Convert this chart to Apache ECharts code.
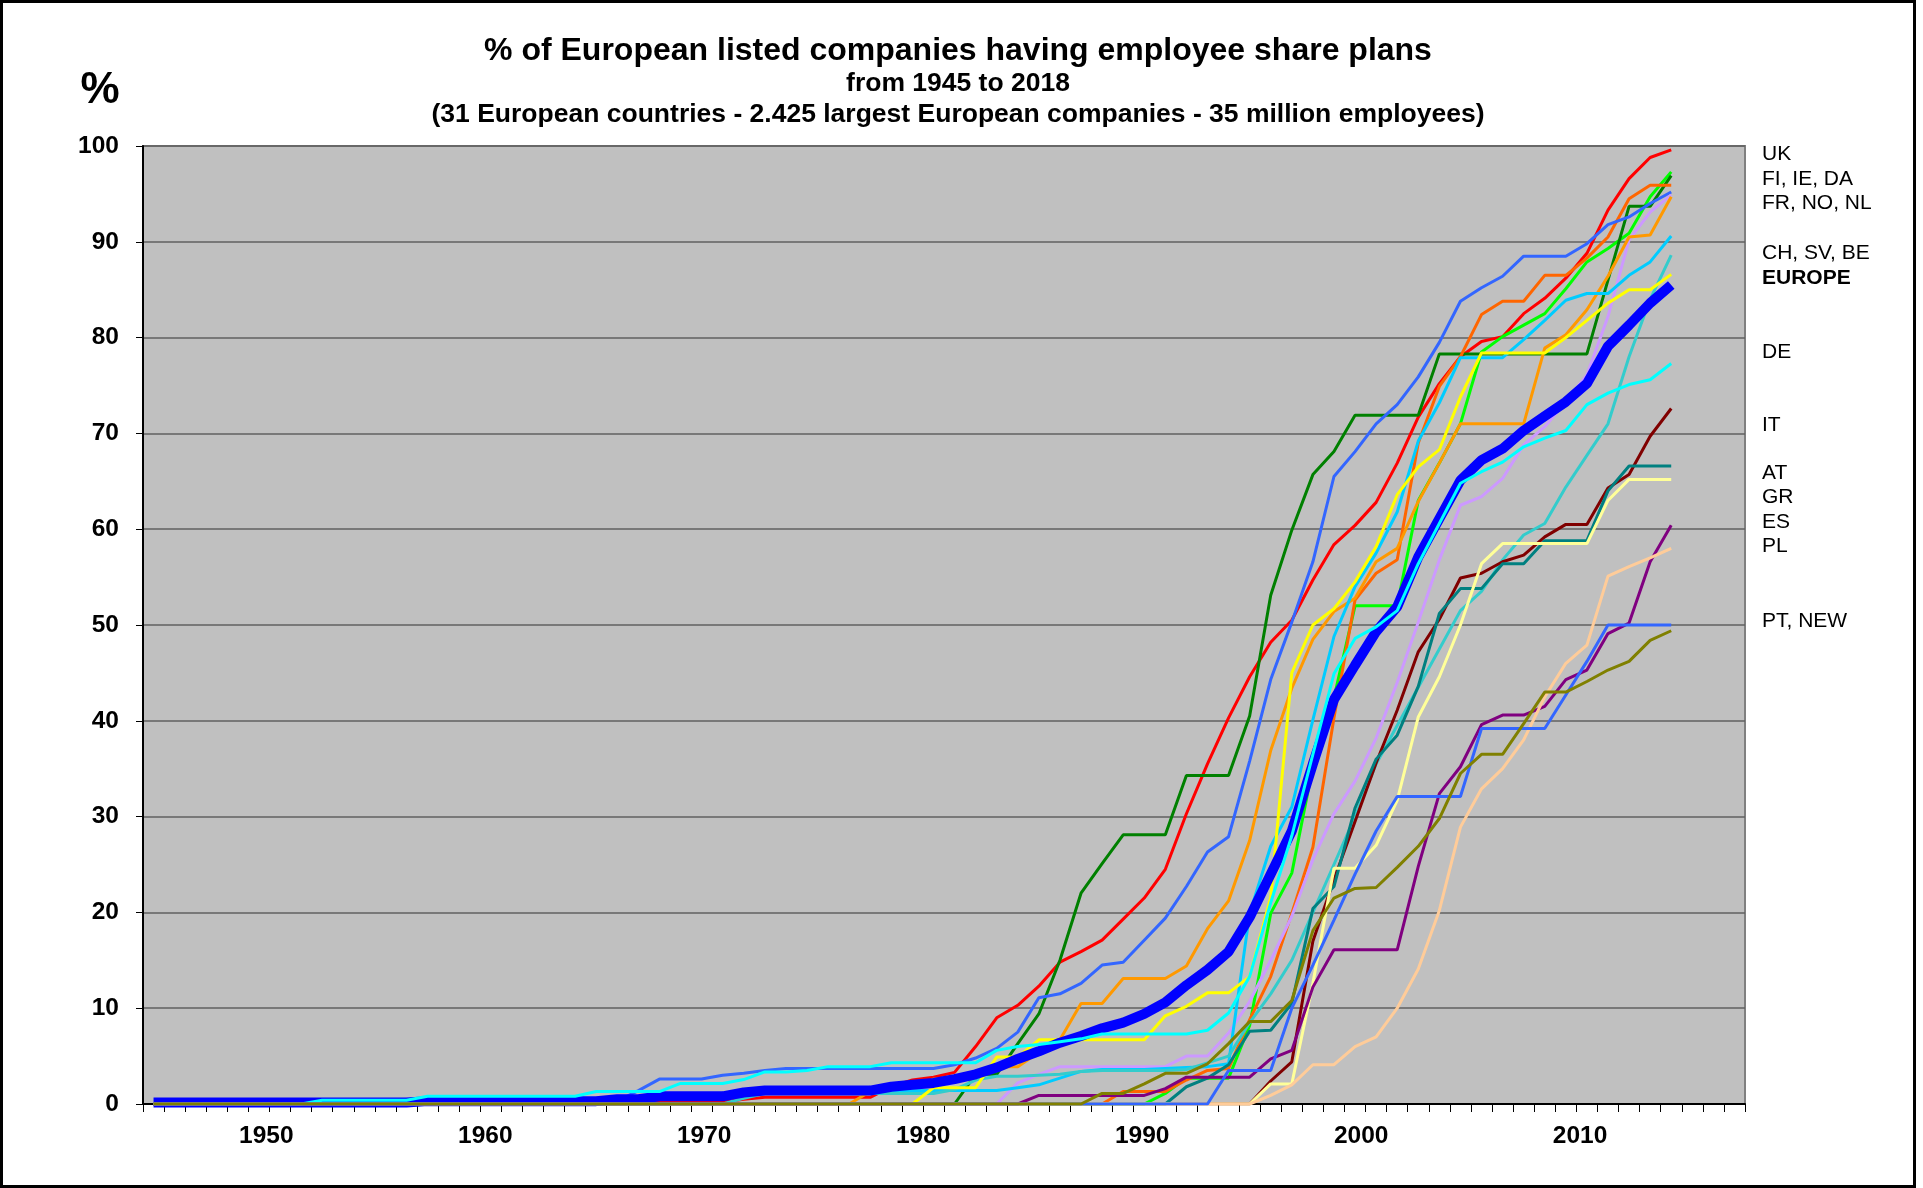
<!DOCTYPE html>
<html><head><meta charset="utf-8">
<script src="https://cdn.jsdelivr.net/npm/echarts@6/dist/echarts.min.js"></script>
<style>html,body{margin:0;padding:0;background:#fff}#c{width:1923px;height:1188px}</style>
</head><body><div id="c"></div>
<script>
// ---- categories (one per tick slot) ----
const years = [1945,1946,1947,1948,1949,1950,1951,1952,1953,1954,1955,1956,1957,1958,1959,1960,1961,1962,1963,1964,1965,1966,1967,1968,1969,1970,1971,1972,1973,1974,1975,1976,1977,1978,1979,1980,1981,1982,1983,1984,1985,1986,1987,1988,1989,1990,1991,1992,1993,1994,1995,1996,1997,1998,1999,2000,2001,2002,2003,2004,2005,2006,2007,2008,2009,2010,2011,2012,2013,2014,2015,2016,2017,2018,2019,2020];
const xTickLabels = [1950,1960,1970,1980,1990,2000,2010];

// ---- series values (% of listed companies) ----
const uk = [0,0,0,0,0,0,0,0,0,0,0,0,0,0,0.2,0.2,0.2,0.2,0.2,0.2,0.2,0.2,0.2,0.2,0.2,0.2,0.2,0.2,0.5,0.7,0.7,0.7,0.7,0.7,0.7,1.8,2.5,2.8,3.3,6.0,9.0,10.3,12.3,14.8,15.9,17.1,19.3,21.5,24.5,30.3,35.5,40.3,44.6,48.2,50.5,54.7,58.4,60.4,62.8,66.9,71.7,75.2,78.0,79.6,80.1,82.5,84.1,86.2,88.8,93.3,96.6,98.8,99.6];
const fi = [0,0,0,0,0,0,0,0,0,0,0,0,0,0,0,0,0,0,0,0,0,0,0,0,0,0,0,0,0,0,0,0,0,0,0,0,0,0,0,0,0,0,0,0,0,0,0,0,1.1,2.7,2.7,2.7,8.2,19.9,24.1,35.2,42.4,52.0,52.0,52.0,63.0,66.9,71.0,78.5,80.1,81.3,82.5,85.1,87.9,89.3,90.9,94.7,97.3];
const ie = [0,0,0,0,0,0,0,0,0,0,0,0,0,0,0,0,0,0,0,0,0,0,0,0,0,0,0,0,0,0,0,0,0,0,0,0,0,0,0,3.1,3.1,6.3,9.4,15.0,22.0,25.1,28.1,28.1,28.1,34.3,34.3,34.3,40.5,53.1,59.9,65.7,68.1,71.9,71.9,71.9,71.9,78.3,78.3,78.3,78.3,78.3,78.3,78.3,78.3,86.0,93.7,93.7,96.9];
const da = [0,0,0,0,0,0,0,0,0,0,0,0,0,0,0,0,0,0,0,0,0,0,0,0,0,0,0,0,0,0,0,0,0,0,0,0,0,0,0,0,0,0,0,0,0,0,1.3,1.3,1.3,2.5,3.5,3.7,8.8,13.3,19.9,26.8,40.3,52.6,55.4,56.8,69.0,74.9,78.0,82.4,83.8,83.8,86.5,86.5,88.3,90.5,94.5,95.9,95.9];
const fr = [0,0,0,0,0,0,0,0,0,0,0,0,0,0,0,0,0,0,0,0,0,0,0.3,1.4,2.6,2.6,2.6,3.0,3.2,3.5,3.7,3.7,3.7,3.7,3.7,3.7,3.7,3.7,4.1,4.8,5.8,7.5,11.1,11.5,12.6,14.5,14.8,17.1,19.4,22.7,26.3,27.9,35.8,44.3,50.3,56.6,65.5,68.1,71.0,73.0,75.9,79.5,83.8,85.2,86.4,88.5,88.5,88.5,89.8,91.8,92.6,94.0,95.2];
const no = [0,0,0,0,0,0,0,0,0,0,0,0,0,0,0,0,0,0,0,0,0,0,0,0,0,0,0,0,0,0,0,0,0,0,0,0,0,0,0,0,0,2.2,3.1,3.9,3.9,3.9,3.9,3.9,3.9,5.0,5.0,7.4,10.7,15.0,19.6,25.5,30.3,33.7,38.2,44.0,50.3,56.8,62.5,63.4,65.3,68.8,70.7,73.3,76.1,82.2,90.2,93.1,94.9];
const nl = [0,0,0,0,0,0,0,0,0,0,0,0,0,0,0,0,0,0,0,0,0,0,0,0,0,0,0,0,0,0,0,0,0,0,1.3,1.3,1.3,2.6,2.6,2.6,3.9,3.9,5.4,6.7,10.5,10.5,13.1,13.1,13.1,14.4,18.3,21.2,27.5,36.9,43.4,48.5,51.4,52.8,56.6,58.0,62.9,66.9,71.0,71.0,71.0,71.0,78.9,80.3,82.9,86.4,90.5,90.7,94.7];
const ch = [0,0,0,0,0,0,0,0,0,0,0,0,0,0,0,0,0.5,0.5,0.5,0.5,0.5,0.5,0.5,0.5,0.5,0.5,0.5,0.5,1.0,1.2,1.4,1.4,1.4,1.4,1.4,1.4,1.4,1.4,1.4,1.4,1.4,1.7,2.0,2.7,3.4,3.6,3.6,3.6,3.7,3.8,3.9,4.2,19.9,26.9,31.0,40.1,48.8,54.0,57.5,61.8,69.2,73.2,77.9,77.9,77.9,79.8,81.8,83.9,84.6,84.6,86.5,87.9,90.6];
const sv = [0,0,0,0,0,0,0,0,0,0,0,0,0,0,0,0,0,0,0,0,0,0,0,0,0,0,0,0,0.6,1.1,1.1,1.1,1.1,1.1,1.1,1.1,1.1,1.1,1.5,2.5,2.9,2.9,3.0,3.1,3.4,3.5,3.5,3.5,3.5,3.6,4.3,5.0,8.5,11.5,15.0,20.0,25.0,30.0,35.5,39.5,43.5,47.5,51.5,53.5,56.8,59.4,60.6,64.4,67.7,71.0,78.0,84.0,88.6];
const be = [0,0,0,0,0,0,0,0,0,0,0,0,0,0,0,0,0,0,0,0,0,0,0,0,0,0,0,0,0,0,0,0,0,0,0,0,0,1.7,1.7,1.7,4.9,4.9,6.7,6.7,6.7,6.7,6.7,6.7,9.2,10.2,11.6,11.6,13.3,21.6,45.0,50.0,51.7,54.5,58.2,63.6,66.5,68.3,73.8,78.4,78.4,78.4,78.4,80.0,81.8,83.6,85.0,85.0,86.6];
const europe = [0.15,0.15,0.15,0.15,0.15,0.15,0.15,0.15,0.15,0.15,0.15,0.15,0.15,0.3,0.3,0.3,0.3,0.3,0.3,0.3,0.3,0.3,0.5,0.5,0.8,0.8,0.8,0.8,1.2,1.4,1.4,1.4,1.4,1.4,1.4,1.8,2.0,2.2,2.6,3.1,3.8,4.7,5.5,6.4,7.1,7.9,8.5,9.4,10.6,12.4,14.0,15.9,19.5,24.0,28.5,35.5,42.2,45.8,49.3,51.9,57.1,61.1,65.1,67.2,68.4,70.3,71.8,73.3,75.2,79.1,81.3,83.6,85.5];
const de = [0,0,0,0,0,0,0,0,0.4,0.4,0.4,0.4,0.4,0.8,0.8,0.8,0.8,0.8,0.8,0.8,0.8,1.3,1.3,1.3,1.3,2.15,2.15,2.15,2.55,3.35,3.35,3.5,3.9,3.9,3.9,4.3,4.3,4.3,4.3,4.3,5.6,6.0,6.2,6.5,6.8,7.3,7.3,7.3,7.3,7.3,7.7,9.5,13.3,21.0,28.0,36.5,44.9,48.6,49.8,51.5,56.4,60.6,64.8,66.0,67.0,68.6,69.5,70.3,73.0,74.2,75.1,75.6,77.3];
const it = [0,0,0,0,0,0,0,0,0,0,0,0,0,0,0,0,0,0,0,0,0,0,0,0,0,0,0,0,0,0,0,0,0,0,0,0,0,0,0,0,0,0,0,0,0,0,0,0,0,0,0,0,0,2.4,4.4,17.0,23.4,29.5,35.6,41.1,47.2,50.6,54.9,55.4,56.6,57.3,59.2,60.5,60.5,64.3,65.7,69.7,72.6];
const at = [0,0,0,0,0,0,0,0,0,0,0,0,0,0,0,0,0,0,0,0,0,0,0,0,0,0,0,0,0,0,0,0,0,0,0,0,0,0,0,0,0,0,0,0,0,0,0,0,0,1.8,2.7,4.1,7.6,7.7,10.5,20.4,22.7,30.9,36.0,38.5,43.6,51.2,53.8,53.8,56.4,56.4,58.8,58.8,58.8,64.0,66.6,66.6,66.6];
const gr = [0,0,0,0,0,0,0,0,0,0,0,0,0,0,0,0,0,0,0,0,0,0,0,0,0,0,0,0,0,0,0,0,0,0,0,0,0,0,0,0,0,0,0,0,0,0,0,0,0,0,0,0,0,2.1,2.1,12.6,24.6,24.6,27.0,31.7,40.4,44.6,50.0,56.4,58.5,58.5,58.5,58.5,58.5,63.0,65.2,65.2,65.2];
const es = [0,0,0,0,0,0,0,0,0,0,0,0,0,0,0,0,0,0,0,0,0,0,0,0,0,0,0,0,0,0,0,0,0,0,0,0,0,0,0,0,0,0,0.9,0.9,0.9,0.9,0.9,0.9,1.6,2.8,2.8,2.8,2.8,4.7,5.6,12.2,16.1,16.1,16.1,16.1,24.8,32.4,35.2,39.6,40.6,40.6,41.5,44.3,45.3,49.1,50.2,56.6,60.4];
const pl = [0,0,0,0,0,0,0,0,0,0,0,0,0,0,0,0,0,0,0,0,0,0,0,0,0,0,0,0,0,0,0,0,0,0,0,0,0,0,0,0,0,0,0,0,0,0,0,0,0,0,0,0,0,0.9,2.0,4.1,4.1,6.0,7.0,10.0,14.1,20.2,28.9,32.9,35.0,38.0,42.5,46.0,47.9,55.1,56.1,57.0,58.0];
const pt = [0,0,0,0,0,0,0,0,0,0,0,0,0,0,0,0,0,0,0,0,0,0,0,0,0,0,0,0,0,0,0,0,0,0,0,0,0,0,0,0,0,0,0,0,0,0,0,0,0,0,0,3.5,3.5,3.5,10.0,14.5,19.2,24.0,28.5,32.1,32.1,32.1,32.1,39.2,39.2,39.2,39.2,42.7,46.2,50.0,50.0,50.0,50.0];
const newc = [0,0,0,0,0,0,0,0,0,0,0,0,0,0,0,0,0,0,0,0,0,0,0,0,0,0,0,0,0,0,0,0,0,0,0,0,0,0,0,0,0,0,0,0,0,1.1,1.1,2.1,3.2,3.2,4.2,6.3,8.6,8.6,10.8,18.1,21.5,22.5,22.6,24.7,26.9,29.8,34.5,36.5,36.5,39.7,43.0,43.0,44.1,45.3,46.2,48.4,49.4];

const seriesNames = ['UK','FI','IE','DA','FR','NO','NL','CH','SV','BE','EUROPE','DE','IT','AT','GR','ES','PL','PT','NEW'];
const seriesData  = [uk,fi,ie,da,fr,no,nl,ch,sv,be,europe,de,it,at,gr,es,pl,pt,newc];

// ---- right-hand label texts ----
const sideLabels = ['UK','FI, IE, DA','FR, NO, NL','CH, SV, BE','EUROPE','DE','IT','AT','GR','ES','PL','PT, NEW'];

// ---- styles / layout (not data) ----
const seriesColors = ['#FF0000','#00FF00','#008000','#FF6600','#3366FF','#CC99FF','#FF9900','#00CCFF','#33CCCC','#FFFF00','#0000FF','#00FFFF','#800000','#008080','#FFFF99','#800080','#FFCC99','#3366FF','#808000'];
const sideLabelY = [154,179,203,253,278,352,425,473,497,522,546,621];
const FONT = "'Liberation Sans', Arial, sans-serif";

const chart = echarts.init(document.getElementById('c'), null, {renderer:'canvas'});

const series = seriesNames.map((n, k) => ({
  name: n, type: 'line', xAxisIndex: 0, yAxisIndex: 0,
  data: seriesData[k], symbol: 'none', silent: true,
  lineStyle: { color: seriesColors[k], width: n === 'EUROPE' ? 10 : 3 },
  itemStyle: { color: seriesColors[k] },
  z: 2
}));

const graphics = [
  { type: 'rect', shape: { x: 1.5, y: 1.5, width: 1913, height: 1185 }, style: { fill: 'none', stroke: '#000', lineWidth: 3 }, z: 100 },
  { type: 'text', x: 100, y: 91, style: { text: '%', font: 'bold 44px ' + FONT, fill: '#000', textAlign: 'center', textVerticalAlign: 'middle' } },
  { type: 'text', x: 958, y: 51, style: { text: '% of European listed companies having employee share plans', font: 'bold 32px ' + FONT, fill: '#000', textAlign: 'center', textVerticalAlign: 'middle' } },
  { type: 'text', x: 958, y: 84, style: { text: 'from 1945 to 2018', font: 'bold 26.5px ' + FONT, fill: '#000', textAlign: 'center', textVerticalAlign: 'middle' } },
  { type: 'text', x: 958, y: 115, style: { text: '(31 European countries - 2.425 largest European companies - 35 million employees)', font: 'bold 26.5px ' + FONT, fill: '#000', textAlign: 'center', textVerticalAlign: 'middle' } }
];
sideLabels.forEach((t, k) => {
  graphics.push({ type: 'text', x: 1762, y: sideLabelY[k], style: { text: t, font: (t === 'EUROPE' ? 'bold ' : '') + '21px ' + FONT, fill: '#000', textAlign: 'left', textVerticalAlign: 'middle' } });
});

chart.setOption({
  animation: false,
  backgroundColor: '#fff',
  grid: { left: 143, right: 178, top: 146, bottom: 84, show: true, backgroundColor: '#C0C0C0', borderColor: '#808080', borderWidth: 2 },
  xAxis: [
    { type: 'category', data: years, boundaryGap: true, position: 'bottom',
      axisLine: { show: true, lineStyle: { color: '#000', width: 2 } },
      axisTick: { show: true, interval: 0, length: 8, inside: false, lineStyle: { color: '#000', width: 1 } },
      axisLabel: { show: false }, splitLine: { show: false } },
    { type: 'value', position: 'bottom', min: 1944.37, max: 2017.53,
      axisLine: { show: false }, axisTick: { show: false }, splitLine: { show: false },
      axisLabel: { customValues: xTickLabels, formatter: v => String(v), fontFamily: FONT, fontWeight: 'bold', fontSize: 24.5, color: '#000', margin: 20 } }
  ],
  yAxis: [{ type: 'value', min: 0, max: 100, interval: 10,
    axisLine: { show: true, lineStyle: { color: '#000', width: 2 } },
    axisTick: { show: true, length: 7, lineStyle: { color: '#000', width: 1 } },
    axisLabel: { fontFamily: FONT, fontWeight: 'bold', fontSize: 24.5, color: '#000', margin: 24 },
    splitLine: { show: true, lineStyle: { color: '#606060', width: 1.5 } } }],
  series: series,
  graphic: graphics
});
</script></body></html>
